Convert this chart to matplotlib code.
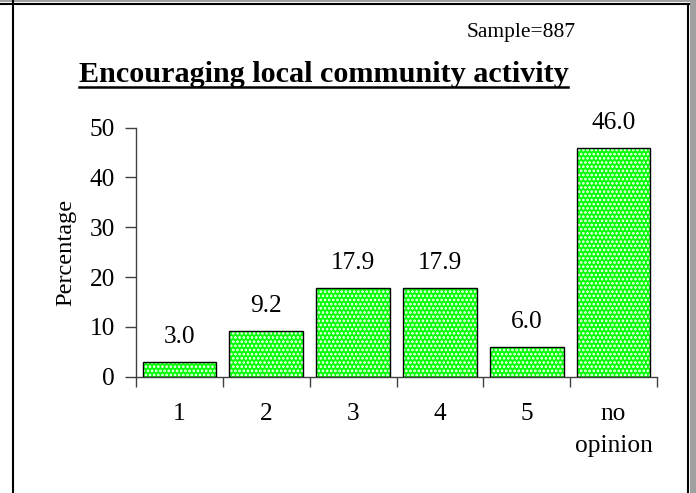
import matplotlib
matplotlib.use("Agg")
import matplotlib.pyplot as plt
from matplotlib.lines import Line2D
from matplotlib.patches import Rectangle

categories = ["1", "2", "3", "4", "5", "no\nopinion"]
values = [3.0, 9.2, 17.9, 17.9, 6.0, 46.0]
value_labels = ["3.0", "9.2", "17.9", "17.9", "6.0", "46.0"]
yticks = [0, 10, 20, 30, 40, 50]
title = "Encouraging local community activity"
sample_text = "Sample=887"
ylabel = "Percentage"

W, H = 696, 493
plt.rcParams['font.family'] = ['Liberation Serif', 'DejaVu Serif']
plt.rcParams['hatch.linewidth'] = 1.3
fig = plt.figure(figsize=(W / 100, H / 100), dpi=100)
fig.patch.set_facecolor('white')

def fx(px):
    return px / W

def fy(py):
    return 1 - py / H

FS = 18.3
ax_left, ax_right, ax_top, ax_bot = 136, 657, 127.7, 376.7
ax = fig.add_axes([fx(ax_left), fy(ax_bot), fx(ax_right - ax_left), (ax_bot - ax_top) / H])

x = list(range(len(categories)))
ax.bar(x, values, width=0.85, color='#00ff00', edgecolor='white', linewidth=0,
       hatch='....', zorder=2)
ax.bar(x, values, width=0.85, fill=False, edgecolor='black', linewidth=1.0, zorder=3)

for xi, v, lab in zip(x, values, value_labels):
    ax.annotate(lab, (xi, v), xytext=(0, 13.5), textcoords='offset points',
                ha='center', va='baseline', fontsize=FS)

ax.set_xlim(-0.5, len(categories) - 0.5)
ax.set_ylim(0, 50)
ax.set_yticks(yticks)
ax.set_yticklabels([str(t) for t in yticks])
ax.set_xticks([i - 0.5 for i in range(len(categories) + 1)])
ax.set_xticklabels([])
ax.set_xticks(x, minor=True)
ax.set_xticklabels(categories, minor=True, fontsize=FS, linespacing=1.6)
ax.tick_params(axis='x', which='major', direction='out', length=7, width=1, color='#404040')
ax.tick_params(axis='x', which='minor', length=0, pad=19)
ax.tick_params(axis='y', direction='out', length=8, width=1, color='#404040', labelsize=FS, pad=7)

for s in ['top', 'right']:
    ax.spines[s].set_visible(False)
for s in ['left', 'bottom']:
    ax.spines[s].set_color('#404040')
    ax.spines[s].set_linewidth(1.0)

fig.text(fx(66), fy(252), ylabel, rotation=90, ha='center', va='center', fontsize=17.6)

t = fig.text(fx(323.5), fy(82), title, ha='center', va='baseline', fontsize=21.7, fontweight='bold')
fig.text(fx(576), fy(37), sample_text, ha='right', va='baseline', fontsize=15.5)

fig.canvas.draw()
bb = t.get_window_extent(renderer=fig.canvas.get_renderer())
uy = fy(86.5)
fig.add_artist(Line2D([bb.x0 / W, bb.x1 / W], [uy, uy], transform=fig.transFigure,
                      color='black', linewidth=1.8))

# frame
fig.add_artist(Rectangle((0, fy(2)), 1, 2 / H, transform=fig.transFigure,
                         facecolor='#a0a0a0', edgecolor='none'))
fig.add_artist(Rectangle((fx(689.5), 0), 1 - fx(689.5), 1, transform=fig.transFigure,
                         facecolor='#a0a0a0', edgecolor='none'))
fig.add_artist(Line2D([0, fx(688.5)], [fy(3.5), fy(3.5)], transform=fig.transFigure,
                      color='black', linewidth=1.5))
fig.add_artist(Line2D([fx(12.5), fx(12.5)], [0, 1], transform=fig.transFigure,
                      color='black', linewidth=1.5))
fig.add_artist(Line2D([fx(688), fx(688)], [0, fy(3.5)], transform=fig.transFigure,
                      color='black', linewidth=1.5))

fig.savefig("out.png", dpi=100)
